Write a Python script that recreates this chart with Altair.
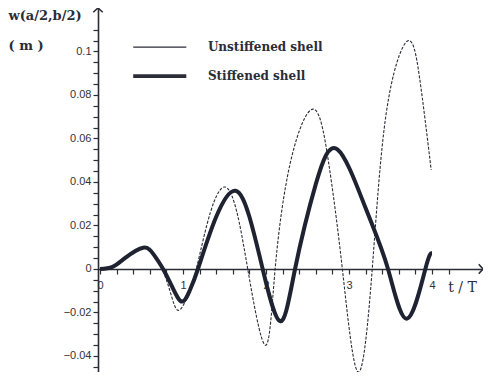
import altair as alt
import pandas as pd

# ---- data ----
series_names = ["Unstiffened shell", "Stiffened shell"]

t_unstiffened = [0.0, 0.15, 0.3, 0.5, 0.65, 0.75, 0.85, 0.94, 1.05, 1.16, 1.33, 1.51,
                 1.65, 1.78, 1.99, 2.11, 2.3, 2.57, 2.75, 2.92, 3.11, 3.28, 3.45,
                 3.70, 3.85, 3.99]
w_unstiffened = [0.0, 0.001, 0.005, 0.0098, 0.006, 0.0, -0.011, -0.019, -0.013, 0.0,
                 0.026, 0.0377, 0.026, 0.0, -0.035, 0.0, 0.05, 0.0735, 0.05, 0.0,
                 -0.0474, 0.0, 0.072, 0.1047, 0.088, 0.0456]

t_stiffened = [0.0, 0.15, 0.3, 0.52, 0.65, 0.76, 0.88, 0.99, 1.08, 1.18, 1.4, 1.63,
               1.8, 1.96, 2.17, 2.35, 2.6, 2.86, 3.2, 3.47, 3.70, 3.92, 4.0]
w_stiffened = [0.0, 0.001, 0.005, 0.0098, 0.0065, 0.0, -0.009, -0.015, -0.010, 0.0,
               0.024, 0.036, 0.024, 0.0, -0.024, 0.0, 0.039, 0.055, 0.028, 0.0,
               -0.0228, 0.0, 0.0074]

x_tick_values = [round(0.2 * i, 1) for i in range(22)]          # 0 .. 4.2
y_tick_values = [round(-0.045 + 0.005 * i, 3) for i in range(32)]  # -0.045 .. 0.11

# ---- layout constants (canvas kept inside the 491x380 window) ----
X_DOM = [-0.0241, 4.6145]
Y_DOM = [-0.04736, 0.12]
W, H = 385, 364
INK = "#2a2d36"

df_u = pd.DataFrame({"t": t_unstiffened, "w": w_unstiffened, "s": series_names[0]})
df_s = pd.DataFrame({"t": t_stiffened, "w": w_stiffened, "s": series_names[1]})

y_axis = alt.Axis(
    values=y_tick_values,
    labelExpr="abs(datum.value*50 - round(datum.value*50)) < 0.001 && datum.value > -0.045 && datum.value < 0.105 ? format(datum.value, '~g') : ''",
    labelOverlap=False, labelFlush=False, labelBound=False,
    tickSize=5, tickWidth=1.2, tickColor=INK, domainColor=INK, domainWidth=1.6,
    labelFont="Liberation Sans", labelFontSize=11, labelColor="#333", labelPadding=2,
    grid=False,
    title=["w(a/2,b/2)", "( m )"], titleAngle=0, titleX=-90, titleY=1,
    titleAlign="left", titleBaseline="top", titleFont="DejaVu Serif",
    titleFontWeight="bold", titleFontSize=13, titleLineHeight=30, titleColor=INK,
)
x_axis = alt.Axis(
    values=x_tick_values,
    labelExpr="abs(datum.value - round(datum.value)) < 0.001 ? format(datum.value, 'd') : ''",
    labelOverlap=False, labelFlush=False, labelBound=False,
    offset=-103,
    tickSize=5, tickWidth=1.2, tickColor=INK, domainColor=INK, domainWidth=1.6,
    labelFont="Liberation Sans", labelFontSize=11, labelColor="#333", labelPadding=5,
    grid=False,
    title="t / T", titleX=364, titleY=18, titleAlign="center", titleBaseline="middle",
    titleFont="DejaVu Serif", titleFontWeight="normal", titleFontSize=14, titleColor=INK,
)

x_scale = alt.Scale(domain=X_DOM, nice=False, zero=False)
y_scale = alt.Scale(domain=Y_DOM, nice=False, zero=False)
x_enc = alt.X("t:Q", scale=x_scale, axis=x_axis)
y_enc = alt.Y("w:Q", scale=y_scale, axis=y_axis)

line_u = alt.Chart(df_u).mark_line(
    interpolate="natural", color=INK, strokeWidth=1.1, strokeDash=[3, 1.5]
).encode(x=x_enc, y=y_enc)

line_s = alt.Chart(df_s).mark_line(
    interpolate="natural", color="#1f2230", strokeWidth=4
).encode(x=x_enc, y=y_enc)

# ---- legend (drawn inside the plot) ----
leg_df = pd.DataFrame({
    "t": [0.40, 0.40], "t2": [1.04, 1.04], "tt": [1.30, 1.30],
    "w": [0.102, 0.0887], "label": series_names, "sw": [1.4, 3.8],
})
leg_lines = alt.Chart(leg_df).mark_rule(color=INK).encode(
    x=x_enc, x2="t2:Q", y=y_enc,
    strokeWidth=alt.StrokeWidth("sw:Q", scale=None, legend=None),
)
leg_text = alt.Chart(leg_df).mark_text(
    align="left", baseline="middle", font="DejaVu Serif", fontWeight="bold",
    fontSize=12, color=INK
).encode(x=alt.X("tt:Q", scale=x_scale, axis=x_axis), y=y_enc, text="label:N")

# ---- axis arrowheads ----
arrow_y = alt.Chart(pd.DataFrame({"t": [X_DOM[0]], "w": [Y_DOM[1]]})).mark_point(
    shape="M-1,0.9L0,0L1,0.9", filled=False, size=90, color=INK, strokeWidth=1.6, opacity=1
).encode(x=x_enc, y=y_enc)
arrow_x = alt.Chart(pd.DataFrame({"t": [X_DOM[1]], "w": [0.0]})).mark_point(
    shape="M-0.9,-1L0,0L-0.9,1", filled=False, size=90, color=INK, strokeWidth=1.6, opacity=1
).encode(x=x_enc, y=y_enc)

chart = alt.layer(line_u, line_s, leg_lines, leg_text, arrow_y, arrow_x).properties(
    width=W, height=H,
    autosize=alt.AutoSizeParams(type="none"),
    padding={"left": 90, "top": 0, "right": 0, "bottom": 0},
    background="white",
).configure_view(stroke=None)

chart.save("out.html", embed_options={"renderer": "svg", "actions": False})
